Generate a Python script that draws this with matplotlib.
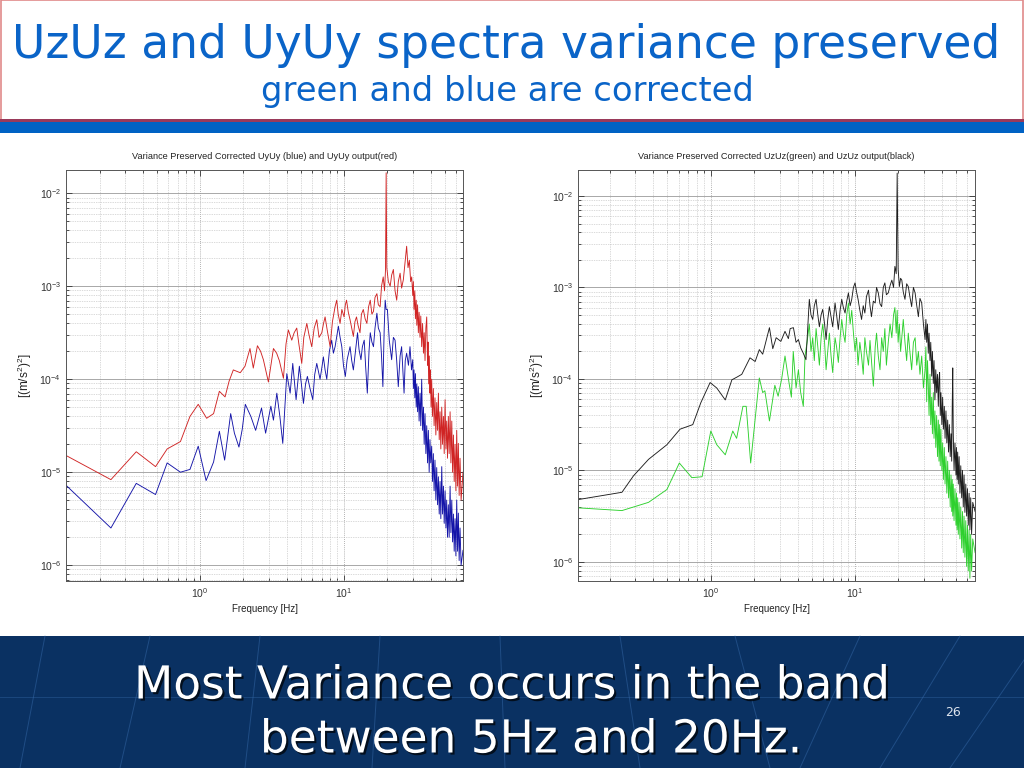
import numpy as np
import matplotlib.pyplot as plt
from matplotlib.patches import Rectangle
from matplotlib.lines import Line2D
import matplotlib.patheffects as pe

plt.rcParams['mathtext.fontset'] = 'custom'
plt.rcParams['mathtext.rm'] = 'Liberation Sans'
plt.rcParams['mathtext.it'] = 'Liberation Sans:italic'
plt.rcParams['mathtext.bf'] = 'Liberation Sans:bold'

# ---- UyUy (left panel): frequency [Hz] and log10 of PSD ----
f_uy_out = [0.117, 0.24, 0.36, 0.49, 0.59, 0.73, 0.85, 0.97, 1.11, 1.24, 1.36, 1.49, 1.59, 1.70, 1.90,
            2.05, 2.22, 2.34, 2.50, 2.63, 2.75, 2.98, 3.23, 3.40, 3.55, 3.79, 3.95, 4.10, 4.33, 4.50,
            4.69, 4.85, 5.08, 5.25, 5.51, 5.70, 5.96, 6.20, 6.46, 6.70, 7.00, 7.20, 7.38, 7.65, 8.0,
            8.30, 8.66, 8.89, 9.10, 9.38, 9.65, 10.0, 10.2, 10.4, 10.7, 11.0, 11.3, 11.6, 11.9, 12.2,
            12.5, 12.9, 13.2, 13.6, 14.0, 14.4, 14.8, 15.2, 15.6, 16.0, 16.4, 16.9, 17.3, 17.8, 18.2,
            18.7, 19.1, 19.4, 19.6, 19.8, 20.3, 20.9, 21.4, 22.0, 22.6, 23.2, 23.8, 24.5, 25.1, 25.8,
            26.5, 27.2, 27.8, 28.4, 29.0, 29.5,
            30.0, 30.3, 30.6, 31.0, 31.3, 31.7, 32.0, 32.4, 32.8, 33.2, 33.7, 34.1, 34.6, 35.1, 35.6,
            36.0, 36.5, 37.0, 37.5, 38.0, 38.3, 38.7, 39.1, 39.5, 39.8, 40.2, 40.6, 41.1, 41.7, 42.2,
            42.8, 43.4, 44.0, 44.6, 45.2, 45.8, 46.4, 47.0, 47.7, 48.3, 49.0, 49.6, 50.3, 51.0, 51.6,
            52.3, 53.0, 53.7, 54.5, 55.2, 56.0, 56.7, 57.5, 58.2, 59.0, 59.8, 60.6, 61.4, 62.2, 63.0,
            63.9, 65.0, 67.0]
p_uy_out = [-4.82, -5.08, -4.78, -4.94, -4.75, -4.67, -4.40, -4.27, -4.42, -4.37, -4.13, -4.19, -4.02, -3.90, -3.93,
            -3.86, -3.67, -3.88, -3.64, -3.70, -3.79, -4.03, -3.67, -3.72, -3.80, -3.99, -3.62, -3.47, -3.58, -3.50,
            -3.45, -3.62, -3.83, -3.55, -3.40, -3.52, -3.65, -3.45, -3.36, -3.55, -3.50, -3.40, -3.33, -3.48, -3.65,
            -3.38, -3.22, -3.15, -3.30, -3.40, -3.25, -3.33, -3.20, -3.15, -3.28, -3.36, -3.45, -3.54, -3.38, -3.33,
            -3.42, -3.50, -3.30, -3.25, -3.35, -3.40, -3.22, -3.15, -3.30, -3.27, -3.12, -3.08, -3.20, -3.22, -3.00,
            -2.90, -3.05, -2.82, -1.78, -2.80, -2.95, -3.00, -2.88, -2.82, -3.05, -3.15, -2.95, -2.86, -3.02, -2.93,
            -2.75, -2.57, -2.80, -2.72, -2.95, -2.90,
            -3.10, -2.95, -3.25, -3.05, -3.35, -3.15, -3.42, -3.20, -3.50, -3.28, -3.55, -3.32, -3.65, -3.40, -3.72,
            -3.50, -3.80, -3.45, -3.33, -3.85, -3.60, -4.05, -3.75, -4.15, -3.90, -4.30, -4.00, -4.40, -4.10, -4.50,
            -4.20, -4.60, -4.25, -4.55, -4.15, -4.65, -4.35, -4.75, -4.30, -4.70, -4.40, -4.80, -4.22, -4.75, -4.45,
            -4.85, -4.40, -4.80, -4.35, -4.90, -4.45, -5.00, -4.60, -5.10, -4.70, -5.20, -4.55, -5.15, -4.69, -5.25,
            -4.85, -5.30, -5.00]

f_uy_cor = [0.117, 0.24, 0.36, 0.49, 0.59, 0.73, 0.85, 0.97, 1.10, 1.24, 1.36, 1.48, 1.63, 1.73, 1.86,
            1.96, 2.06, 2.25, 2.43, 2.67, 2.85, 3.10, 3.23, 3.41, 3.58, 3.75, 4.00, 4.22, 4.40, 4.64,
            4.89, 5.05, 5.22, 5.40, 5.56, 5.80, 6.06, 6.25, 6.46, 6.81, 7.00, 7.18, 7.38, 7.58, 7.90,
            8.2, 8.43, 8.66, 9.13, 9.38, 9.64, 9.90, 10.2, 10.5, 11.0, 11.3, 11.6, 12.0, 12.4, 12.7,
            13.1, 13.4, 13.8, 14.1, 14.5, 14.9, 15.2, 15.6, 16.0, 16.4, 16.9, 17.3, 17.8, 18.2, 18.6,
            19.0, 19.3, 19.6, 20.0, 20.6, 21.4, 22.0, 22.6, 23.2, 23.8, 24.5, 25.1, 25.6, 26.1, 26.6,
            27.2, 28.0, 28.7, 29.4,
            30.0, 30.3, 30.6, 31.0, 31.3, 31.7, 32.0, 32.4, 32.8, 33.2, 33.7, 34.1, 34.6, 35.1, 35.6,
            36.0, 36.5, 37.0, 37.5, 38.0, 38.5, 39.0, 39.5, 40.0, 40.6, 41.1, 41.7, 42.2, 42.8, 43.4,
            44.0, 44.6, 45.2, 45.8, 46.4, 47.0, 47.7, 48.3, 49.0, 49.6, 50.3, 51.0, 51.6, 52.3, 53.0,
            53.7, 54.5, 55.2, 56.0, 56.7, 57.5, 58.2, 59.0, 59.8, 60.6, 61.4, 62.2, 63.0, 63.9, 65.0,
            67.0]
p_uy_cor = [-5.14, -5.60, -5.12, -5.24, -4.90, -5.00, -4.97, -4.72, -5.09, -4.89, -4.56, -4.87, -4.37, -4.58, -4.73,
            -4.54, -4.27, -4.40, -4.55, -4.31, -4.58, -4.29, -4.44, -4.15, -4.40, -4.69, -3.94, -4.15, -3.83, -4.22,
            -3.86, -4.05, -4.26, -4.05, -3.97, -4.10, -4.22, -3.95, -3.83, -4.00, -3.88, -3.76, -3.90, -4.00, -3.70,
            -3.58, -3.72, -3.65, -3.43, -3.55, -3.65, -3.85, -3.97, -3.79, -3.65, -3.80, -3.90, -3.70, -3.50, -3.68,
            -3.79, -3.65, -3.58, -3.85, -4.15, -3.70, -3.50, -3.60, -3.65, -3.45, -3.29, -3.45, -3.50, -3.75, -4.08,
            -3.45, -3.15, -3.25, -3.25, -3.58, -3.79, -3.55, -3.58, -3.80, -4.08, -3.75, -3.65, -3.90, -4.15, -3.80,
            -3.72, -3.85, -3.65, -3.90,
            -3.79, -4.10, -3.90, -4.20, -3.94, -4.30, -4.05, -4.35, -4.08, -4.45, -4.15, -4.50, -4.00, -4.55, -4.30,
            -4.70, -4.37, -4.80, -4.50, -4.90, -4.55, -5.00, -4.65, -4.90, -4.72, -5.10, -4.80, -5.20, -4.87, -5.30,
            -4.95, -5.35, -5.05, -5.45, -5.10, -5.50, -4.94, -5.45, -5.15, -5.55, -5.20, -5.60, -5.30, -5.70, -5.35,
            -5.70, -5.15, -5.65, -5.30, -5.75, -5.45, -5.85, -5.50, -5.90, -5.30, -5.85, -5.44, -5.95, -5.60, -6.00,
            -5.84]

# ---- UzUz (right panel) ----
f_uz_out = [0.12, 0.242, 0.291, 0.370, 0.496, 0.612, 0.750, 0.853, 0.989, 1.10, 1.26, 1.40, 1.52, 1.64, 1.87,
            2.03, 2.17, 2.29, 2.55, 2.69, 2.84, 3.06, 3.27, 3.45, 3.55, 3.74, 3.90, 4.05, 4.20, 4.38,
            4.57, 4.82, 4.95, 5.09, 5.22, 5.37, 5.52, 5.66, 5.82, 5.97, 6.15, 6.30, 6.47, 6.64, 6.82,
            7.00, 7.27, 7.45, 7.66, 7.88, 8.09, 8.30, 8.53, 8.76, 9.00, 9.25, 9.49, 9.75, 10.0, 10.25,
            10.5, 10.8, 11.1, 11.4, 11.7, 12.0, 12.4, 12.7, 13.0, 13.4, 13.8, 14.1, 14.5, 14.9, 15.3,
            15.7, 16.1, 16.5, 17.0, 17.5, 18.0, 18.5, 18.9, 19.3, 19.6, 19.9, 20.3, 20.7, 21.1, 21.6,
            22.2, 22.8, 23.4, 24.0, 24.7, 25.4, 26.1, 26.8, 27.5, 28.2, 29.0, 29.8,
            30.6, 31.0, 31.4, 31.8, 32.2, 32.6, 33.1, 33.5, 34.0, 34.4, 34.9, 35.3, 35.8, 36.3, 36.8,
            37.3, 37.8, 38.2, 38.6, 39.0, 39.4, 40.0, 40.5, 41.0, 41.6, 42.1, 42.7, 43.3, 43.9, 44.5,
            45.1, 45.7, 46.3, 46.8, 47.2, 47.6, 48.0, 48.6, 49.3, 50.1, 50.5, 51.0, 51.5, 52.0, 52.7,
            53.4, 54.1, 54.9, 55.6, 56.3, 57.0, 57.8, 58.6, 59.4, 60.2, 61.0, 61.8, 62.6, 63.4, 64.3,
            65.5, 68.0]
p_uz_out = [-5.32, -5.24, -5.06, -4.88, -4.72, -4.55, -4.50, -4.26, -4.04, -4.10, -4.23, -4.01, -3.98, -3.95, -3.77,
            -3.81, -3.68, -3.73, -3.44, -3.67, -3.55, -3.59, -3.48, -3.56, -3.45, -3.44, -3.60, -3.57, -3.66, -3.72,
            -3.79, -3.13, -3.30, -3.35, -3.20, -3.13, -3.30, -3.43, -3.30, -3.24, -3.40, -3.57, -3.35, -3.21, -3.32,
            -3.43, -3.17, -3.30, -3.46, -3.25, -3.13, -3.22, -3.28, -3.15, -3.06, -3.20, -3.13, -3.00, -2.95, -3.05,
            -3.13, -3.25, -3.35, -3.20, -3.28, -3.10, -3.03, -3.20, -3.32, -3.15, -3.17, -3.00, -3.06, -3.18, -3.21,
            -3.00, -2.95, -3.08, -3.06, -2.98, -2.92, -3.00, -2.77, -2.85, -1.75, -2.80, -2.99, -2.90, -2.92, -3.05,
            -3.13, -2.96, -2.99, -3.10, -3.21, -3.00, -3.06, -3.20, -3.32, -3.12, -3.17, -3.40,
            -3.57, -3.35, -3.60, -3.40, -3.72, -3.50, -3.80, -3.60, -3.97, -3.70, -4.05, -3.80, -4.23, -3.90, -4.15,
            -3.95, -4.30, -4.00, -3.93, -4.40, -4.15, -4.50, -4.20, -4.55, -4.30, -4.65, -4.35, -4.70, -4.45, -4.80,
            -4.50, -4.85, -4.60, -4.90, -4.30, -3.88, -4.60, -5.00, -4.70, -5.05, -4.75, -5.10, -4.80, -5.15, -4.85,
            -5.25, -4.95, -5.30, -5.00, -5.40, -5.05, -5.46, -5.15, -5.50, -5.20, -5.60, -5.25, -5.65, -5.30, -5.70,
            -5.35, -5.45]

f_uz_cor = [0.12, 0.242, 0.370, 0.496, 0.605, 0.739, 0.87, 1.00, 1.10, 1.26, 1.42, 1.51, 1.67, 1.76, 1.89,
            2.17, 2.29, 2.37, 2.55, 2.78, 2.93, 3.10, 3.27, 3.50, 3.62, 3.73, 3.90, 4.05, 4.20, 4.38,
            4.50, 4.65, 4.82, 4.95, 5.09, 5.22, 5.37, 5.52, 5.66, 5.82, 5.97, 6.15, 6.30, 6.47, 6.64,
            6.82, 7.00, 7.27, 7.45, 7.66, 7.88, 8.09, 8.30, 8.53, 8.76, 9.00, 9.25, 9.49, 9.75, 10.0,
            10.25, 10.5, 10.8, 11.1, 11.4, 11.7, 12.0, 12.4, 12.7, 13.0, 13.4, 13.8, 14.1, 14.5, 14.9,
            15.3, 15.7, 16.1, 16.5, 17.0, 17.5, 18.0, 18.5, 18.9, 19.3, 19.6, 19.9, 20.3, 20.7, 21.1,
            21.6, 22.2, 22.8, 23.4, 24.0, 24.7, 25.4, 26.1, 26.8, 27.5, 28.2, 29.0, 29.8,
            30.6, 31.0, 31.4, 31.8, 32.2, 32.6, 33.1, 33.5, 34.0, 34.4, 34.9, 35.3, 35.8, 36.3, 36.8,
            37.3, 37.8, 38.2, 38.6, 39.0, 39.4, 40.0, 40.5, 41.0, 41.6, 42.1, 42.7, 43.3, 43.9, 44.5,
            45.1, 45.7, 46.3, 46.8, 47.2, 47.6, 48.0, 48.6, 49.3, 50.1, 50.5, 51.0, 51.5, 52.0, 52.7,
            53.4, 54.1, 54.9, 55.6, 56.3, 57.0, 57.8, 58.6, 59.4, 60.2, 61.0, 61.8, 62.6, 63.4, 64.3,
            65.5, 68.0]
p_uz_cor = [-5.41, -5.44, -5.35, -5.21, -4.92, -5.08, -5.07, -4.57, -4.72, -4.83, -4.57, -4.65, -4.30, -4.30, -4.92,
            -3.99, -4.15, -4.13, -4.46, -4.07, -4.19, -4.00, -3.75, -4.06, -4.20, -3.70, -4.10, -3.90, -4.15, -4.30,
            -3.75, -3.60, -3.40, -3.70, -3.55, -3.80, -3.45, -3.65, -3.85, -3.55, -3.40, -3.60, -3.90, -3.70, -3.50,
            -3.75, -3.93, -3.55, -3.65, -3.82, -3.55, -3.35, -3.50, -3.60, -3.30, -3.17, -3.40, -3.25, -3.50, -3.70,
            -3.55, -3.85, -3.60, -3.75, -3.95, -3.55, -3.70, -3.85, -3.58, -3.80, -4.08, -3.65, -3.50, -3.75, -3.90,
            -3.55, -3.70, -3.45, -3.85, -3.60, -3.40, -3.55, -3.30, -3.22, -3.50, -3.25, -3.60, -3.40, -3.70, -3.55,
            -3.35, -3.60, -3.80, -3.50, -3.70, -3.90, -3.60, -3.55, -3.85, -3.70, -3.95, -3.75, -4.10,
            -3.90, -3.65, -4.25, -3.80, -4.05, -4.40, -3.95, -4.50, -4.20, -4.60, -4.15, -4.65, -4.35, -4.75, -4.40,
            -4.85, -4.45, -4.90, -4.50, -4.95, -4.55, -5.00, -4.70, -5.10, -4.75, -5.15, -4.85, -5.25, -4.90, -5.30,
            -5.00, -5.40, -5.05, -5.45, -5.10, -5.50, -5.15, -5.55, -5.20, -5.60, -5.25, -5.65, -5.30, -5.70, -5.35,
            -5.75, -5.40, -5.85, -5.45, -5.90, -5.50, -5.95, -5.55, -6.05, -5.60, -6.10, -5.65, -6.18, -5.70, -6.10,
            -5.75, -5.90]

title_main = "UzUz and UyUy spectra variance preserved"
title_sub = "green and blue are corrected"
banner_1 = "Most Variance occurs in the band"
banner_2 = "between 5Hz and 20Hz."

W, H = 1024, 768
fig = plt.figure(figsize=(W / 100, H / 100), dpi=100)
fig.patch.set_facecolor('white')


def fx(x):
    return x / W


def fy(y):
    return 1 - y / H


# top title box
fig.patches.append(Rectangle((fx(0.5), fy(120)), fx(1022.5), 119.5 / H, transform=fig.transFigure,
                             facecolor='white', edgecolor='#e08a8a', lw=1.2))
fig.patches.append(Rectangle((0, fy(122)), 1, 2.5 / H, transform=fig.transFigure,
                             facecolor='#9a3a5a', edgecolor='none'))
fig.patches.append(Rectangle((0, fy(133)), 1, 11 / H, transform=fig.transFigure,
                             facecolor='#0062c4', edgecolor='none'))
fig.text(fx(506), fy(45), title_main, ha='center', va='center', color='#0a64c8', fontsize=32.8,
         family='DejaVu Sans')
fig.text(fx(507), fy(91), title_sub, ha='center', va='center', color='#0a64c8', fontsize=24.3,
         family='DejaVu Sans')

# bottom banner
fig.patches.append(Rectangle((0, 0), 1, 132 / H, transform=fig.transFigure,
                             facecolor='#0a3162', edgecolor='none'))
banner_lines = [(45, 636, 20, 768), (150, 636, 120, 768), (260, 636, 245, 768), (380, 636, 372, 768),
                (500, 636, 505, 768), (620, 636, 640, 768), (735, 636, 770, 768), (860, 636, 800, 768),
                (960, 636, 880, 768), (1024, 660, 950, 768)]
for x0, y0, x1, y1 in banner_lines:
    fig.lines.append(Line2D([fx(x0), fx(x1)], [fy(y0), fy(y1)], transform=fig.transFigure,
                            color='#3a6fb0', lw=0.7, alpha=0.45))
fig.lines.append(Line2D([0, 1], [fy(697), fy(697)], transform=fig.transFigure,
                        color='#3a6fb0', lw=0.7, alpha=0.35))
shadow = [pe.withSimplePatchShadow(offset=(1.5, -1.5), shadow_rgbFace='black', alpha=0.7)]
fig.text(fx(512), fy(686), banner_1, ha='center', va='center', color='white', fontsize=32.7,
         family='DejaVu Sans', path_effects=shadow)
fig.text(fx(531), fy(740), banner_2, ha='center', va='center', color='white', fontsize=32.7,
         family='DejaVu Sans', path_effects=shadow)
fig.text(fx(953), fy(713), "26", ha='center', va='center', color='#dde4ee', fontsize=9,
         family='DejaVu Sans')


def spectrum(left, right, xlim, ylim, title, series):
    ax = fig.add_axes([fx(left), fy(581), (right - left) / W, 411 / H])
    for f, p, c in series:
        ax.loglog(f, 10.0 ** np.array(p), color=c, lw=0.65)
    ax.set_xlim(*xlim)
    ax.set_ylim(10.0 ** ylim[0], 10.0 ** ylim[1])
    ax.grid(True, which='major', axis='y', color='#9a9a9a', lw=0.6, ls='-')
    ax.grid(True, which='major', axis='x', color='#9a9a9a', lw=0.6, ls=(0, (1, 1.5)))
    ax.grid(True, which='minor', color='#b5b5b5', lw=0.5, ls=(0, (1, 1.5)))
    ax.set_axisbelow(True)
    ax.tick_params(which='both', direction='in', top=True, right=True, labelsize=7.5,
                   colors='#333333', width=0.6)
    ax.tick_params(which='major', length=4)
    ax.tick_params(which='minor', length=2)
    for lab in ax.get_xticklabels() + ax.get_yticklabels():
        lab.set_family('Liberation Sans')
    for s in ax.spines.values():
        s.set_color('#555555')
        s.set_linewidth(0.7)
    ax.set_title(title, fontsize=6.6, family='Liberation Sans', color='#222222', pad=8)
    ax.set_xlabel('Frequency [Hz]', fontsize=7, family='Liberation Sans', color='#222222', labelpad=3)
    ax.set_ylabel(r'$[(\mathrm{m/s}^2)^2]$', fontsize=8.5, color='#222222', labelpad=4)
    return ax


spectrum(66, 463, (0.117, 67.0), (-6.17, -1.75),
         'Variance Preserved Corrected UyUy (blue) and UyUy output(red)',
         [(f_uy_cor, p_uy_cor, '#1414a8'), (f_uy_out, p_uy_out, '#d02424')])
spectrum(578, 975, (0.12, 67.9), (-6.21, -1.716),
         'Variance Preserved Corrected UzUz(green) and UzUz output(black)',
         [(f_uz_cor, p_uz_cor, '#2ed02e'), (f_uz_out, p_uz_out, '#1e1e1e')])

fig.savefig('out.png', dpi=100, facecolor=fig.get_facecolor())
